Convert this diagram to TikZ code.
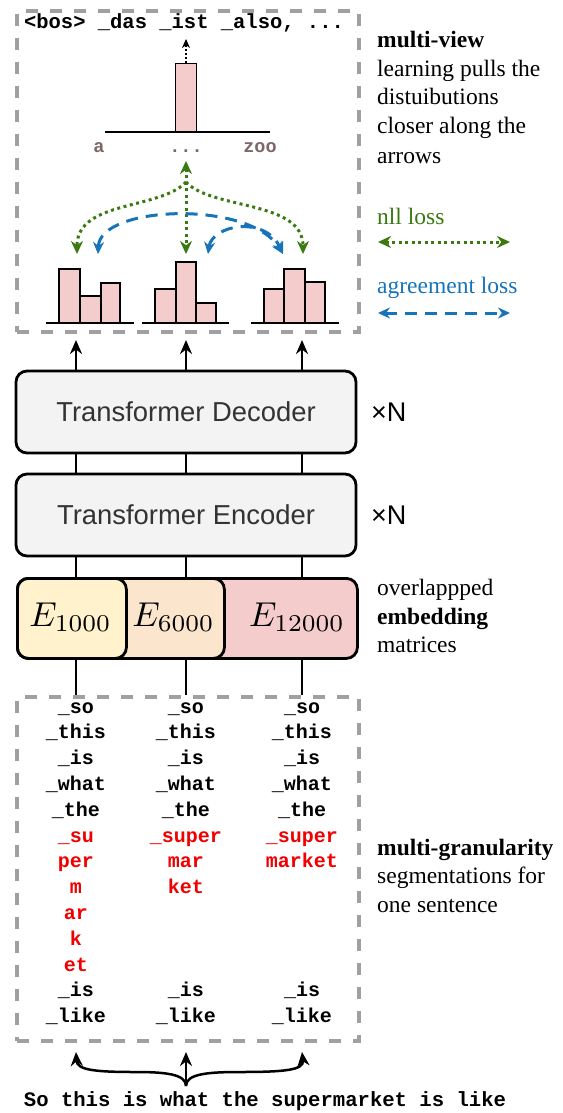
\RequirePackage{fix-cm}
\documentclass[tikz,border=0pt]{standalone}
\usepackage[no-math]{fontspec}
\setmainfont{Liberation Serif}
\setsansfont{Liberation Sans}
\setmonofont{Liberation Mono}
\usetikzlibrary{arrows.meta}
\definecolor{gbox}{HTML}{A0A0A0}
\definecolor{pinkbar}{HTML}{F4CCCC}
\definecolor{peach}{HTML}{FCE5CD}
\definecolor{yell}{HTML}{FFF2CC}
\definecolor{boxfill}{HTML}{F3F3F3}
\definecolor{txtgray}{HTML}{333333}
\definecolor{nllgreen}{HTML}{3A7A10}
\definecolor{agblue}{HTML}{1874B8}
\definecolor{vocab}{HTML}{7E6666}
\definecolor{tokred}{HTML}{F00000}
\begin{document}
\begin{tikzpicture}[x=1pt,y=-1pt,
  bar/.style={draw=black, fill=pinkbar, line width=1.3pt},
  axis/.style={line width=1.3pt},
  dbox/.style={draw=gbox, line width=4pt, dash pattern=on 12pt off 12pt, rectangle, inner sep=0pt},
  tbox/.style={draw, line width=2.8pt, rounded corners=11pt, fill=boxfill, minimum width=340pt, minimum height=82pt, font=\fontsize{27.4}{32}\selectfont\sffamily, text=txtgray},
  ebox/.style={draw, line width=2.8pt, rounded corners=11pt, minimum height=80pt, anchor=north west, inner sep=0pt},
  conn/.style={line width=2.5pt},
  uparr/.style={conn, -{Stealth[length=14pt,width=12pt]}},
  nll/.style={nllgreen, line width=3pt, dash pattern=on 3pt off 3.5pt, {Stealth[length=13pt,width=12pt]}-{Stealth[length=13pt,width=12pt]}},
  nllend/.style={nllgreen, line width=3pt, dash pattern=on 3pt off 3.5pt, -{Stealth[length=13pt,width=12pt]}},
  agr/.style={agblue, line width=3pt, dash pattern=on 12pt off 8pt, {Stealth[length=12pt,width=11pt]}-{Stealth[length=12pt,width=11pt]}},
  tok/.style={font=\fontsize{20}{24}\selectfont\ttfamily\bfseries, anchor=base, inner sep=0pt},
  voc/.style={font=\fontsize{18.5}{22}\selectfont\ttfamily\bfseries, anchor=base, inner sep=0pt, text=vocab},
  side/.style={font=\fontsize{23.5}{28}\selectfont, anchor=base west, inner sep=0pt},
  xn/.style={font=\fontsize{27}{30}\selectfont\sffamily, anchor=west, inner sep=0pt},
  emath/.style={font=\fontsize{10}{12}\selectfont, scale=3.45, anchor=base, inner sep=0pt}
]
\useasboundingbox (0,0) rectangle (562,1113);
\fill[white] (0,0) rectangle (562,1113);

\coordinate (c1) at (76,0);
\coordinate (c2) at (186,0);
\coordinate (c3) at (302,0);

% dashed frames
\node[dbox, minimum width=342pt, minimum height=321pt, anchor=north west] (outbox) at (15,9) {};
\node[dbox, minimum width=342pt, minimum height=344pt, anchor=north west] (inbox) at (15,695) {};

% output sequence
\node[tok, font=\fontsize{20.5}{24}\selectfont\ttfamily\bfseries] (hdr) at (184,29) {<bos> \_das \_ist \_also, ...};

% big distribution
\draw[axis] (105,132) -- (270,132);
\node[bar, minimum width=21pt, minimum height=68pt, anchor=south, inner sep=0pt] (bigbar) at (186,132) {};
\coordinate (pred) at (186,39);
\draw[line width=1.5pt, dash pattern=on 1.5pt off 2.5pt, -{Stealth[length=9pt,width=8pt]}] (bigbar.north) -- (pred);
\node[voc] (va) at (99,153) {a};
\node[voc] (vdots) at (186,153) {...};
\node[voc] (vzoo) at (260,153) {zoo};

% small histograms
\draw[axis] (46,323) -- (134,323);
\draw[bar] (59,269) rectangle (80,323);
\draw[bar] (80,296) rectangle (101,323);
\draw[bar] (101,283) rectangle (120,323);
\draw[axis] (142,323) -- (229,323);
\draw[bar] (155,289) rectangle (176,323);
\draw[bar] (176,262) rectangle (196,323);
\draw[bar] (196,303) rectangle (216,323);
\draw[axis] (251,323) -- (339,323);
\draw[bar] (264,289) rectangle (284,323);
\draw[bar] (284,269) rectangle (305,323);
\draw[bar] (305,282) rectangle (325,323);

% nll loss arrows
\coordinate (gtop) at (186,161);
\coordinate (gsplit) at (186,182);
\coordinate (gl) at (77,254);
\coordinate (gm) at (186,254);
\coordinate (gr) at (303,254);
\draw[nll] (gtop) -- (gm);
\draw[nllend] (gsplit) .. controls (160,210) and (77,200) .. (gl);
\draw[nllend] (gsplit) .. controls (212,210) and (303,200) .. (gr);

% agreement loss arrows
\coordinate (bl) at (98,254);
\coordinate (bm) at (208,254);
\coordinate (br) at (283,254);
\draw[agr] (bl) .. controls (100,205) and (250,200) .. (br);
\draw[agr] (bm) .. controls (212,225) and (265,215) .. (br);

% right-hand notes
\node[side] (mv1) at (377,48) {\textbf{multi-view}};
\node[side] (mv2) at (377,77) {learning pulls the};
\node[side] (mv3) at (377,105) {distuibutions};
\node[side] (mv4) at (377,134) {closer along the};
\node[side] (mv5) at (377,163) {arrows};
\node[side, text=nllgreen] (nlltxt) at (377,224) {nll loss};
\coordinate (nlla) at (378,242);
\coordinate (nllb) at (510,242);
\draw[nll] (nlla) -- (nllb);
\node[side, text=agblue] (agrtxt) at (377,293) {agreement loss};
\coordinate (agra) at (378,313);
\coordinate (agrb) at (510,313);
\draw[agr] (agra) -- (agrb);

% transformer blocks
\node[tbox] (dec) at (186,412) {Transformer Decoder};
\node[tbox] (enc) at (186,515) {Transformer Encoder};
\node[xn] (xn1) at (371,412) {×N};
\node[xn] (xn2) at (371,515) {×N};

% embeddings
\node[ebox, fill=pinkbar, minimum width=340pt] (e3) at (16,577) {};
\node[ebox, fill=peach, minimum width=207pt] (e2) at (16,577) {};
\node[ebox, fill=yell, minimum width=109pt] (e1) at (16,577) {};
\node[emath] (e1t) at (70.5,626) {$E_{1000}$};
\node[emath] (e2t) at (173.5,626) {$E_{6000}$};
\node[emath] (e3t) at (297,626) {$E_{12000}$};
\node[side] (em1) at (377,595) {overlappped};
\node[side] (em2) at (377,624) {\textbf{embedding}};
\node[side] (em3) at (377,652) {matrices};

% connectors
\coordinate (otop) at ([yshift=-6pt]outbox.south);
\foreach \c in {c1,c2,c3} {
  \draw[uparr] (dec.north -| \c) -- (otop -| \c);
  \draw[conn] (dec.south -| \c) -- (enc.north -| \c);
  \draw[conn] (enc.south -| \c) -- (e3.north -| \c);
  \draw[conn] (e3.south -| \c) -- (inbox.north -| \c);
}

% tokens
\foreach \r/\w/\cl in {1/\_so/black,2/\_this/black,3/\_is/black,4/\_what/black,5/\_the/black,6/\_su/tokred,7/per/tokred,8/m/tokred,9/ar/tokred,10/k/tokred,11/et/tokred,12/\_is/black,13/\_like/black}
  \node[tok, text=\cl] (ta\r) at (76,{713+25.8*(\r-1)}) {\w};
\foreach \r/\w/\cl in {1/\_so/black,2/\_this/black,3/\_is/black,4/\_what/black,5/\_the/black,6/\_super/tokred,7/mar/tokred,8/ket/tokred,12/\_is/black,13/\_like/black}
  \node[tok, text=\cl] (tb\r) at (186,{713+25.8*(\r-1)}) {\w};
\foreach \r/\w/\cl in {1/\_so/black,2/\_this/black,3/\_is/black,4/\_what/black,5/\_the/black,6/\_super/tokred,7/market/tokred,12/\_is/black,13/\_like/black}
  \node[tok, text=\cl] (tc\r) at (302,{713+25.8*(\r-1)}) {\w};

\node[side] (mg1) at (377,855) {\textbf{multi-granularity}};
\node[side] (mg2) at (377,883) {segmentations for};
\node[side] (mg3) at (377,912) {one sentence};

% sentence and brace arrows
\node[tok, font=\fontsize{20.6}{24}\selectfont\ttfamily\bfseries] (sent) at (265,1106) {So this is what the supermarket is like};
\coordinate (bj) at (186,1086);
\coordinate (ibot) at ([yshift=-9pt]inbox.south);
\draw[uparr] (bj) -- (ibot -| c2);
\draw[uparr] (bj) .. controls (186,1074) and (165,1072) .. (135,1072) .. controls (95,1072) and (77,1070) .. (ibot -| c1);
\draw[uparr] (bj) .. controls (186,1074) and (207,1072) .. (240,1072) .. controls (285,1072) and (304,1070) .. (ibot -| c3);
\end{tikzpicture}
\end{document}
